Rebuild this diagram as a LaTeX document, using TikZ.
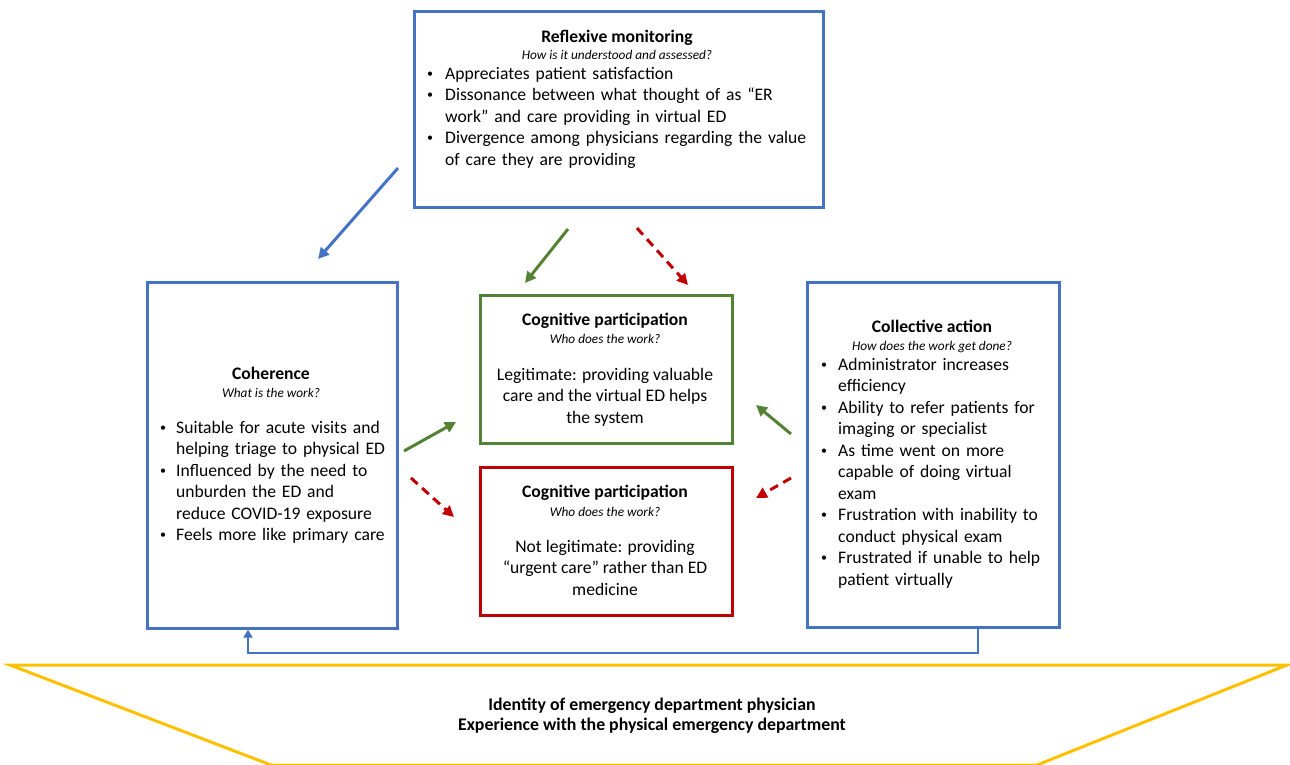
\documentclass[tikz,border=0pt]{standalone}
\usepackage{fontspec}
\setmainfont{Carlito}
\usetikzlibrary{arrows.meta}
\definecolor{vblue}{HTML}{4472C4}
\definecolor{vgreen}{HTML}{548235}
\definecolor{vred}{HTML}{C00000}
\definecolor{vyellow}{HTML}{FFC000}
\newcommand{\bodyfont}{\fontsize{17.6}{21.5}\selectfont}
\newcommand{\smbul}{{\fontsize{12}{12}\selectfont\raisebox{1.6pt}{\textbullet}}}
\newcommand{\bitem}[2][16pt]{\hangindent=#1\hangafter=1\noindent\makebox[#1][l]{\smbul}#2\par}
\tikzset{
  box/.style={draw, line width=2.6pt, inner sep=0pt, anchor=north west},
  ttl/.style={font=\bodyfont\bfseries, anchor=base, inner sep=0pt},
  sub/.style={font=\fontsize{13.3}{16}\selectfont\itshape, anchor=base, inner sep=0pt},
  lst/.style={font=\bodyfont, anchor=base west, inner sep=0pt, text width=#1, align=left},
  ctr/.style={font=\bodyfont, anchor=base, inner sep=0pt, align=center},
  arr/.style={line width=3pt, -{Triangle[length=11pt,width=11pt]}},
  dsh/.style={arr, dash pattern=on 9pt off 6pt},
}
\begin{document}
\begin{tikzpicture}[x=1pt,y=-1pt]
\useasboundingbox (0,0) rectangle (1290,764);
% boxes
\node[box, draw=vblue, minimum width=409pt, minimum height=196pt] (rm) at (413,10) {};
\node[box, draw=vblue, minimum width=250pt, minimum height=346pt] (coh) at (146,281) {};
\node[box, draw=vblue, minimum width=252pt, minimum height=345pt] (ca) at (806,281) {};
\node[box, draw=vgreen, minimum width=252pt, minimum height=148pt] (cpg) at (479,294) {};
\node[box, draw=vred, minimum width=252pt, minimum height=148pt] (cpr) at (479,466) {};
% reflexive monitoring
\node[ttl] (rmt) at (617,42) {Reflexive monitoring};
\node[sub] (rms) at (617,59) {How is it understood and assessed?};
\node[lst=400pt] (rml) at (427,79) {\bitem[18pt]{Appreciates patient satisfaction}\bitem[18pt]{Dissonance between what thought of as “ER\newline work” and care providing in virtual ED}\bitem[18pt]{Divergence among physicians regarding the value\newline of care they are providing}};
% coherence
\node[ttl] (coht) at (271,379) {Coherence};
\node[sub] (cohs) at (271,397) {What is the work?};
\node[lst=300pt] (cohl) at (160,433) {\bitem{Suitable for acute visits and\newline helping triage to physical ED}\bitem{Influenced by the need to\newline unburden the ED and\newline reduce COVID-19 exposure}\bitem{Feels more like primary care}};
% collective action
\node[ttl] (cat) at (932,332) {Collective action};
\node[sub] (cas) at (932,350) {How does the work get done?};
\node[lst=300pt] (cal) at (821,370) {\bitem[17pt]{Administrator increases\newline efficiency}\bitem[17pt]{Ability to refer patients for\newline imaging or specialist}\bitem[17pt]{As time went on more\newline capable of doing virtual\newline exam}\bitem[17pt]{Frustration with inability to\newline conduct physical exam}\bitem[17pt]{Frustrated if unable to help\newline patient virtually}};
% cognitive participation (green)
\node[ttl] (cpgt) at (605,325) {Cognitive participation};
\node[sub] (cpgs) at (605,343) {Who does the work?};
\node[ctr] (cpgb) at (605,423) {Legitimate: providing valuable\\care and the virtual ED helps\\the system};
% cognitive participation (red)
\node[ttl] (cprt) at (605,497) {Cognitive participation};
\node[sub] (cprs) at (605,516) {Who does the work?};
\node[ctr] (cprb) at (605,595) {Not legitimate: providing\\“urgent care” rather than ED\\medicine};
% arrows
\coordinate (a1s) at (398,168); \coordinate (a1e) at (318,259);
\coordinate (a2s) at (568,229); \coordinate (a2e) at (525,283);
\coordinate (a3s) at (637,228); \coordinate (a3e) at (688,285);
\coordinate (a4s) at (404,451); \coordinate (a4e) at (456,422);
\coordinate (a5s) at (411,478); \coordinate (a5e) at (454,517);
\coordinate (a6s) at (791,434); \coordinate (a6e) at (756,405);
\coordinate (a7s) at (791,478); \coordinate (a7e) at (756,498);
\draw[arr, vblue] (a1s) -- (a1e);
\draw[arr, vgreen] (a2s) -- (a2e);
\draw[dsh, vred] (a3s) -- (a3e);
\draw[arr, vgreen] (a4s) -- (a4e);
\draw[dsh, vred] (a5s) -- (a5e);
\draw[arr, vgreen] (a6s) -- (a6e);
\draw[dsh, vred] (a7s) -- (a7e);
% feedback connector
\draw[vblue, line width=2.6pt, -{Triangle[length=8pt,width=9pt]}] (ca.south west -| 978,0) -- (978,653) -- (248,653) -- (coh.south west -| 248,0);
% base trapezoid
\draw[vyellow, line width=3pt, line join=miter] (10,665) -- (1287,665) -- (1037,765) -- (271,765) -- cycle;
\node[font=\fontsize{17.8}{20}\selectfont\bfseries, align=center, anchor=base, inner sep=0pt] (basetxt) at (652,730) {Identity of emergency department physician\\Experience with the physical emergency department};
\end{tikzpicture}
\end{document}
